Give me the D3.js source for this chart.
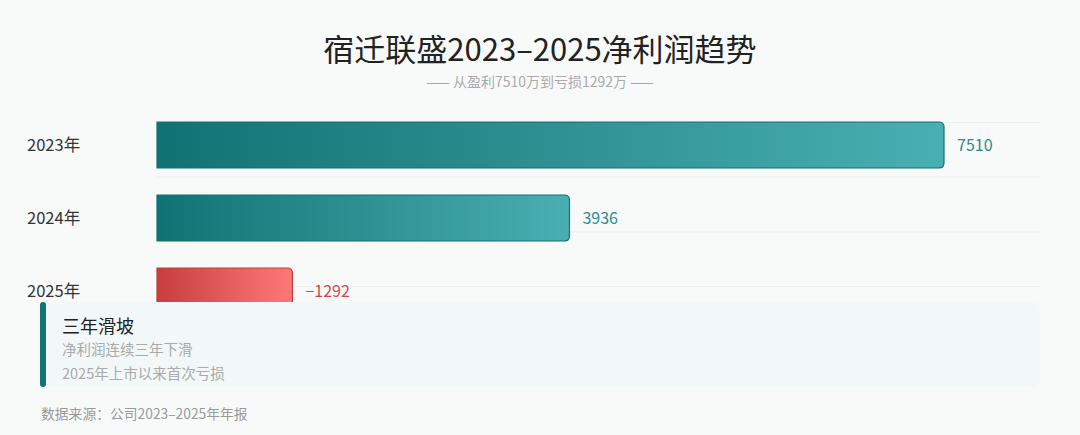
<!DOCTYPE html>
<html>
<head>
<meta charset="utf-8">
<script src="https://cdn.jsdelivr.net/npm/d3@7"></script>
<style>
  html, body { margin: 0; padding: 0; background: #f8fafa; }
  svg { display: block; font-family: "Noto Sans CJK SC", "Noto Sans", sans-serif; }
</style>
</head>
<body>
<div id="chart"></div>
<script>
// data
var years = ["2023年", "2024年", "2025年"];
var profits = [7510, 3936, -1292];
var gridTicks = [0, 1, 2, 3];
var noteTitle = "三年滑坡";
var noteLines = ["净利润连续三年下滑", "2025年上市以来首次亏损"];

var width = 1080, height = 435;

var svg = d3.select("#chart").append("svg")
    .attr("width", width)
    .attr("height", height);

svg.append("rect").attr("width", width).attr("height", height).attr("fill", "#f8fafa");

// gradients
var defs = svg.append("defs");
var gPos = defs.append("linearGradient").attr("id", "gPos").attr("x1", "0%").attr("x2", "100%");
gPos.append("stop").attr("offset", "0%").attr("stop-color", "#107373");
gPos.append("stop").attr("offset", "100%").attr("stop-color", "#4aafb2");
var gNeg = defs.append("linearGradient").attr("id", "gNeg").attr("x1", "0%").attr("x2", "100%");
gNeg.append("stop").attr("offset", "0%").attr("stop-color", "#c83e3e");
gNeg.append("stop").attr("offset", "100%").attr("stop-color", "#ff7878");

// title
svg.append("text")
    .attr("x", 540).attr("y", 61)
    .attr("text-anchor", "middle")
    .style("font-size", "31px")
    .attr("fill", "#222")
    .text("宿迁联盛2023–2025净利润趋势");

svg.append("text")
    .attr("x", 540).attr("y", 87)
    .attr("text-anchor", "middle")
    .style("font-size", "14px")
    .attr("fill", "#aaa")
    .text("—— 从盈利7510万到亏损1292万 ——");

// scales
var x = d3.scaleLinear()
    .domain([0, d3.max(profits, function(d) { return Math.abs(d); })])
    .range([157, 944]);

var y = d3.scaleBand()
    .domain(years)
    .range([122, 314])
    .paddingInner(0.37)
    .paddingOuter(0);

var gy = d3.scaleLinear().domain([0, 3]).range([122, 286]);

// grid lines
svg.append("g")
  .selectAll("line")
  .data(gridTicks)
  .enter()
  .append("line")
    .attr("x1", 157).attr("x2", 1040)
    .attr("y1", function(d) { return gy(d) + 0.5; })
    .attr("y2", function(d) { return gy(d) + 0.5; })
    .attr("stroke", "#edf0f0")
    .attr("stroke-width", 1.2);

// bar path: square left side, rounded right side
function barPath(x0, x1, y0, h, r) {
  return "M" + x0 + "," + y0 +
    "H" + (x1 - r) +
    "Q" + x1 + "," + y0 + " " + x1 + "," + (y0 + r) +
    "V" + (y0 + h - r) +
    "Q" + x1 + "," + (y0 + h) + " " + (x1 - r) + "," + (y0 + h) +
    "H" + x0 + "Z";
}

var rows = years.map(function(d, i) { return {year: d, value: profits[i]}; });

svg.append("g")
  .selectAll("path")
  .data(rows)
  .enter()
  .append("path")
    .attr("d", function(d) { return barPath(x(0), x(Math.abs(d.value)), y(d.year), y.bandwidth(), 5); })
    .attr("fill", function(d) { return d.value < 0 ? "url(#gNeg)" : "url(#gPos)"; })
    .attr("stroke", function(d) { return d.value < 0 ? "#c23a3a" : "#137171"; })
    .attr("stroke-width", 1.2);

// value labels
svg.append("g")
  .selectAll("text")
  .data(rows)
  .enter()
  .append("text")
    .attr("x", function(d) { return x(Math.abs(d.value)) + 13; })
    .attr("y", function(d) { return y(d.year) + y.bandwidth() / 2; })
    .attr("dy", "0.35em")
    .style("font-size", "16px")
    .attr("fill", function(d) { return d.value < 0 ? "#d84848" : "#2b8b8d"; })
    .text(function(d) { return d.value < 0 ? "−" + Math.abs(d.value) : d.value; });

// year labels
svg.append("g")
  .selectAll("text")
  .data(years)
  .enter()
  .append("text")
    .attr("x", 27)
    .attr("y", function(d) { return y(d) + y.bandwidth() / 2; })
    .attr("dy", "0.35em")
    .style("font-size", "16.5px")
    .attr("fill", "#333")
    .text(function(d) { return d; });

// note box (covers bottom of last bar)
svg.append("rect")
    .attr("x", 40).attr("y", 302)
    .attr("width", 1000).attr("height", 85)
    .attr("rx", 8)
    .attr("fill", "#f2f8f8");
svg.append("rect")
    .attr("x", 40).attr("y", 302)
    .attr("width", 6).attr("height", 85)
    .attr("rx", 3)
    .attr("fill", "#137373");

svg.append("text")
    .attr("x", 62).attr("y", 333)
    .style("font-size", "18px")
    .attr("fill", "#222")
    .text(noteTitle);

svg.append("g")
  .selectAll("text")
  .data(noteLines)
  .enter()
  .append("text")
    .attr("x", 62)
    .attr("y", function(d, i) { return 355 + i * 24; })
    .style("font-size", "14.5px")
    .attr("fill", "#aaa")
    .text(function(d) { return d; });

// source
svg.append("text")
    .attr("x", 41).attr("y", 419)
    .style("font-size", "13.8px")
    .attr("fill", "#999")
    .text("数据来源：公司2023–2025年年报");
</script>
</body>
</html>
